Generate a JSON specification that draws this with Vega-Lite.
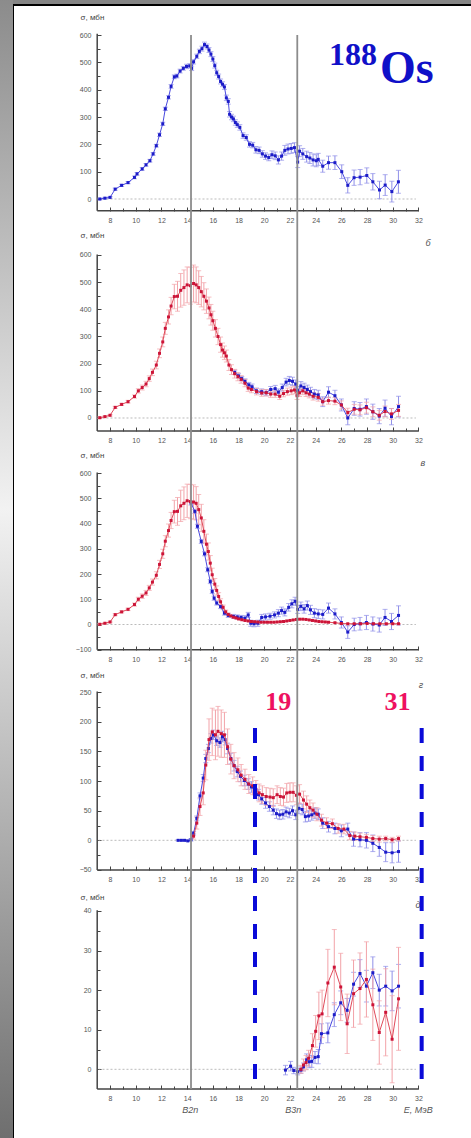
{
"$schema":"https://vega.github.io/schema/vega-lite/v6.json",
"width":459,"height":1134,
"autosize":{"type":"none"},
"padding":{"left":13,"top":5,"right":0,"bottom":0},
"background":"#858585",
"config":{"view":{"fill":"white","stroke":"black","strokeWidth":2},
"axis":{"labelFontSize":7,"labelColor":"#555","tickColor":"#444","tickWidth":1,"labelFont":"Liberation Sans","titleFont":"Liberation Sans","titleFontSize":8,"titleFontWeight":"normal","titleColor":"#444","grid":false,"domain":false,"labelFlush":false}},
"datasets":{
"b1":[{"E":7.2,"s":0,"e":3},{"E":7.6,"s":3,"e":3},{"E":8.0,"s":6,"e":3},{"E":8.4,"s":36,"e":4},{"E":8.9,"s":50,"e":4},{"E":9.4,"s":60,"e":4},{"E":9.9,"s":79,"e":5},{"E":10.1,"s":92,"e":5},{"E":10.5,"s":110,"e":5},{"E":10.8,"s":125,"e":5},{"E":11.1,"s":140,"e":5},{"E":11.35,"s":165,"e":5},{"E":11.6,"s":195,"e":5},{"E":11.85,"s":235,"e":6},{"E":12.1,"s":275,"e":6},{"E":12.3,"s":330,"e":6},{"E":12.55,"s":372,"e":6},{"E":12.75,"s":412,"e":7},{"E":13.0,"s":447,"e":7},{"E":13.2,"s":450,"e":7},{"E":13.45,"s":468,"e":7},{"E":13.7,"s":478,"e":7},{"E":13.95,"s":485,"e":8},{"E":14.2,"s":487,"e":8},{"E":14.35,"s":478,"e":8},{"E":14.5,"s":502,"e":8},{"E":14.75,"s":522,"e":8},{"E":14.95,"s":540,"e":8},{"E":15.15,"s":550,"e":9},{"E":15.35,"s":565,"e":9},{"E":15.55,"s":558,"e":9},{"E":15.7,"s":545,"e":9},{"E":15.85,"s":530,"e":9},{"E":16.0,"s":512,"e":9},{"E":16.15,"s":488,"e":9},{"E":16.3,"s":462,"e":9},{"E":16.45,"s":448,"e":9},{"E":16.6,"s":430,"e":9},{"E":16.75,"s":420,"e":9},{"E":16.9,"s":410,"e":9},{"E":17.05,"s":370,"e":10},{"E":17.2,"s":357,"e":10},{"E":17.3,"s":310,"e":10},{"E":17.45,"s":300,"e":10},{"E":17.6,"s":293,"e":10},{"E":17.75,"s":280,"e":10},{"E":17.9,"s":272,"e":10},{"E":18.1,"s":262,"e":10},{"E":18.35,"s":232,"e":10},{"E":18.6,"s":225,"e":10},{"E":18.85,"s":200,"e":10},{"E":19.1,"s":197,"e":10},{"E":19.35,"s":180,"e":12},{"E":19.6,"s":178,"e":12},{"E":19.85,"s":165,"e":12},{"E":20.1,"s":157,"e":12},{"E":20.35,"s":152,"e":12},{"E":20.6,"s":162,"e":14},{"E":20.85,"s":158,"e":14},{"E":21.1,"s":143,"e":15},{"E":21.35,"s":157,"e":15},{"E":21.6,"s":178,"e":18},{"E":21.85,"s":183,"e":18},{"E":22.1,"s":185,"e":18},{"E":22.35,"s":188,"e":18},{"E":22.6,"s":135,"e":20},{"E":22.75,"s":175,"e":20},{"E":23.0,"s":165,"e":20},{"E":23.3,"s":155,"e":20},{"E":23.55,"s":150,"e":20},{"E":23.8,"s":143,"e":22},{"E":24.05,"s":140,"e":22},{"E":24.2,"s":145,"e":22},{"E":24.55,"s":120,"e":22},{"E":25.0,"s":133,"e":24},{"E":25.5,"s":133,"e":25},{"E":26.03,"s":100,"e":25},{"E":26.5,"s":50,"e":28},{"E":26.99,"s":78,"e":28},{"E":27.46,"s":80,"e":28},{"E":27.98,"s":86,"e":28},{"E":28.45,"s":63,"e":30},{"E":28.97,"s":33,"e":32},{"E":29.41,"s":51,"e":38},{"E":29.93,"s":27,"e":38},{"E":30.44,"s":63,"e":42}],
"r2":[{"E":7.2,"s":1,"e":3},{"E":7.6,"s":5,"e":3},{"E":8.0,"s":10,"e":3},{"E":8.4,"s":39,"e":4},{"E":8.9,"s":50,"e":4},{"E":9.4,"s":60,"e":5},{"E":9.9,"s":79,"e":6},{"E":10.2,"s":100,"e":8},{"E":10.5,"s":112,"e":9},{"E":10.8,"s":125,"e":10},{"E":11.05,"s":145,"e":10},{"E":11.3,"s":168,"e":12},{"E":11.6,"s":195,"e":14},{"E":11.85,"s":238,"e":16},{"E":12.1,"s":280,"e":18},{"E":12.3,"s":330,"e":22},{"E":12.55,"s":372,"e":26},{"E":12.75,"s":412,"e":32},{"E":13.0,"s":447,"e":45},{"E":13.25,"s":448,"e":55},{"E":13.5,"s":470,"e":62},{"E":13.75,"s":480,"e":65},{"E":14.0,"s":490,"e":66},{"E":14.25,"s":487,"e":68},{"E":14.5,"s":495,"e":68},{"E":14.7,"s":490,"e":66},{"E":14.9,"s":480,"e":62},{"E":15.1,"s":465,"e":56},{"E":15.3,"s":448,"e":50},{"E":15.5,"s":430,"e":45},{"E":15.7,"s":405,"e":40},{"E":15.85,"s":380,"e":38},{"E":16.0,"s":358,"e":35},{"E":16.2,"s":330,"e":32},{"E":16.4,"s":300,"e":30},{"E":16.6,"s":270,"e":28},{"E":16.75,"s":250,"e":26},{"E":16.9,"s":240,"e":25},{"E":17.05,"s":228,"e":22},{"E":17.25,"s":195,"e":20},{"E":17.45,"s":178,"e":18},{"E":17.7,"s":163,"e":16},{"E":17.95,"s":152,"e":15},{"E":18.2,"s":142,"e":14},{"E":18.5,"s":128,"e":13},{"E":18.75,"s":110,"e":12},{"E":19.0,"s":105,"e":12},{"E":19.4,"s":97,"e":12},{"E":19.8,"s":92,"e":12},{"E":20.15,"s":93,"e":12},{"E":20.5,"s":88,"e":12},{"E":20.85,"s":88,"e":12},{"E":21.2,"s":80,"e":12},{"E":21.5,"s":90,"e":12},{"E":21.8,"s":97,"e":13},{"E":22.1,"s":100,"e":14},{"E":22.35,"s":103,"e":14},{"E":22.55,"s":82,"e":14},{"E":22.75,"s":93,"e":14},{"E":23.0,"s":100,"e":14},{"E":23.25,"s":93,"e":14},{"E":23.5,"s":88,"e":14},{"E":23.8,"s":80,"e":14},{"E":24.2,"s":76,"e":14},{"E":24.55,"s":60,"e":13},{"E":25.0,"s":64,"e":13},{"E":25.5,"s":62,"e":13},{"E":26.0,"s":48,"e":15},{"E":26.5,"s":20,"e":16},{"E":27.0,"s":32,"e":18},{"E":27.45,"s":30,"e":18},{"E":27.95,"s":38,"e":20},{"E":28.45,"s":23,"e":18},{"E":28.95,"s":10,"e":18},{"E":29.4,"s":24,"e":20},{"E":29.9,"s":15,"e":20},{"E":30.45,"s":28,"e":22}],
"b2":[{"E":17.7,"s":168,"e":8},{"E":18.0,"s":155,"e":8},{"E":18.25,"s":145,"e":8},{"E":18.5,"s":135,"e":9},{"E":18.8,"s":122,"e":9},{"E":19.05,"s":115,"e":10},{"E":19.4,"s":100,"e":10},{"E":19.8,"s":97,"e":10},{"E":20.15,"s":93,"e":11},{"E":20.5,"s":105,"e":11},{"E":20.85,"s":108,"e":12},{"E":21.1,"s":95,"e":12},{"E":21.4,"s":112,"e":13},{"E":21.7,"s":132,"e":14},{"E":21.95,"s":138,"e":15},{"E":22.2,"s":135,"e":15},{"E":22.45,"s":125,"e":15},{"E":22.6,"s":100,"e":16},{"E":22.85,"s":118,"e":16},{"E":23.1,"s":112,"e":16},{"E":23.35,"s":105,"e":16},{"E":23.6,"s":97,"e":16},{"E":23.9,"s":88,"e":17},{"E":24.2,"s":85,"e":17},{"E":24.55,"s":60,"e":18},{"E":25.0,"s":95,"e":20},{"E":25.5,"s":82,"e":20},{"E":26.0,"s":48,"e":22},{"E":26.5,"s":0,"e":25},{"E":27.0,"s":35,"e":25},{"E":27.45,"s":32,"e":25},{"E":27.95,"s":42,"e":28},{"E":28.45,"s":23,"e":28},{"E":28.95,"s":7,"e":28},{"E":29.4,"s":36,"e":30},{"E":29.9,"s":5,"e":30},{"E":30.45,"s":42,"e":38}],
"r3":[{"E":7.2,"s":1,"e":3},{"E":7.6,"s":5,"e":3},{"E":8.0,"s":10,"e":3},{"E":8.4,"s":39,"e":4},{"E":8.9,"s":50,"e":4},{"E":9.4,"s":60,"e":5},{"E":9.9,"s":79,"e":6},{"E":10.2,"s":100,"e":8},{"E":10.5,"s":112,"e":9},{"E":10.8,"s":125,"e":10},{"E":11.05,"s":145,"e":10},{"E":11.3,"s":168,"e":12},{"E":11.6,"s":195,"e":14},{"E":11.85,"s":238,"e":16},{"E":12.1,"s":280,"e":18},{"E":12.3,"s":330,"e":22},{"E":12.55,"s":372,"e":26},{"E":12.75,"s":412,"e":32},{"E":13.0,"s":447,"e":45},{"E":13.25,"s":448,"e":55},{"E":13.5,"s":470,"e":62},{"E":13.75,"s":480,"e":65},{"E":14.0,"s":490,"e":66},{"E":14.25,"s":487,"e":68},{"E":14.5,"s":485,"e":68},{"E":14.7,"s":480,"e":66},{"E":14.9,"s":455,"e":60},{"E":15.1,"s":422,"e":54},{"E":15.3,"s":369,"e":46},{"E":15.5,"s":318,"e":40},{"E":15.65,"s":289,"e":34},{"E":15.8,"s":243,"e":30},{"E":15.95,"s":197,"e":26},{"E":16.15,"s":160,"e":22},{"E":16.3,"s":135,"e":18},{"E":16.45,"s":111,"e":15},{"E":16.6,"s":90,"e":12},{"E":16.8,"s":68,"e":9},{"E":17.0,"s":50,"e":7},{"E":17.2,"s":40,"e":5},{"E":17.4,"s":34,"e":4},{"E":17.6,"s":29,"e":3},{"E":17.8,"s":26,"e":3},{"E":18.0,"s":22,"e":2},{"E":18.25,"s":19,"e":2},{"E":18.5,"s":16,"e":2},{"E":18.75,"s":14,"e":1},{"E":19.0,"s":12,"e":1},{"E":19.25,"s":11,"e":1},{"E":19.5,"s":10,"e":1},{"E":19.75,"s":9,"e":1},{"E":20.0,"s":9,"e":1},{"E":20.25,"s":9,"e":1},{"E":20.5,"s":9,"e":1},{"E":20.75,"s":9,"e":1},{"E":21.0,"s":10,"e":1},{"E":21.25,"s":11,"e":1},{"E":21.5,"s":12,"e":1},{"E":21.75,"s":14,"e":1},{"E":22.0,"s":16,"e":1},{"E":22.25,"s":18,"e":1},{"E":22.5,"s":20,"e":1},{"E":22.75,"s":21,"e":1},{"E":23.0,"s":21,"e":1},{"E":23.25,"s":20,"e":1},{"E":23.5,"s":18,"e":1},{"E":23.75,"s":16,"e":1},{"E":24.0,"s":14,"e":1},{"E":24.25,"s":12,"e":1},{"E":24.5,"s":11,"e":1},{"E":24.75,"s":10,"e":1},{"E":25.0,"s":9,"e":1},{"E":25.5,"s":7,"e":1},{"E":26.0,"s":4,"e":1},{"E":26.5,"s":3,"e":1},{"E":27.0,"s":3,"e":1},{"E":27.5,"s":3,"e":1},{"E":28.0,"s":4,"e":1},{"E":28.5,"s":3,"e":1},{"E":29.0,"s":3,"e":1},{"E":29.5,"s":3,"e":1},{"E":30.0,"s":3,"e":1},{"E":30.45,"s":3,"e":1}],
"b3":[{"E":14.3,"s":481,"e":8},{"E":14.6,"s":448,"e":8},{"E":14.8,"s":389,"e":8},{"E":15.1,"s":329,"e":8},{"E":15.35,"s":280,"e":8},{"E":15.6,"s":217,"e":8},{"E":15.8,"s":170,"e":8},{"E":15.95,"s":131,"e":8},{"E":16.1,"s":104,"e":8},{"E":16.3,"s":85,"e":8},{"E":16.6,"s":71,"e":8},{"E":16.9,"s":45,"e":8},{"E":17.2,"s":36,"e":8},{"E":17.6,"s":32,"e":8},{"E":17.9,"s":30,"e":8},{"E":18.2,"s":28,"e":8},{"E":18.5,"s":25,"e":10},{"E":18.75,"s":38,"e":10},{"E":18.95,"s":5,"e":12},{"E":19.2,"s":3,"e":12},{"E":19.5,"s":5,"e":12},{"E":19.8,"s":28,"e":12},{"E":20.1,"s":30,"e":12},{"E":20.45,"s":33,"e":12},{"E":20.8,"s":38,"e":12},{"E":21.1,"s":45,"e":14},{"E":21.35,"s":55,"e":14},{"E":21.6,"s":48,"e":14},{"E":21.9,"s":68,"e":15},{"E":22.15,"s":82,"e":16},{"E":22.4,"s":92,"e":16},{"E":22.6,"s":60,"e":16},{"E":22.85,"s":72,"e":17},{"E":23.1,"s":62,"e":17},{"E":23.35,"s":75,"e":18},{"E":23.6,"s":58,"e":18},{"E":23.9,"s":45,"e":18},{"E":24.2,"s":42,"e":18},{"E":24.55,"s":40,"e":18},{"E":25.0,"s":65,"e":20},{"E":25.5,"s":42,"e":20},{"E":26.0,"s":8,"e":22},{"E":26.5,"s":-30,"e":25},{"E":27.0,"s":0,"e":25},{"E":27.45,"s":3,"e":25},{"E":27.95,"s":8,"e":28},{"E":28.45,"s":2,"e":28},{"E":28.95,"s":-2,"e":28},{"E":29.4,"s":28,"e":32},{"E":29.9,"s":12,"e":32},{"E":30.45,"s":36,"e":38}],
"b4":[{"E":13.3,"s":0,"e":1},{"E":13.55,"s":0,"e":1},{"E":13.8,"s":0,"e":1},{"E":14.05,"s":-1,"e":1},{"E":14.3,"s":1,"e":2},{"E":14.5,"s":12,"e":3},{"E":14.75,"s":37,"e":4},{"E":15.0,"s":75,"e":5},{"E":15.25,"s":105,"e":6},{"E":15.45,"s":138,"e":7},{"E":15.65,"s":155,"e":7},{"E":15.85,"s":172,"e":8},{"E":16.05,"s":178,"e":8},{"E":16.3,"s":168,"e":8},{"E":16.55,"s":165,"e":8},{"E":16.75,"s":175,"e":9},{"E":16.95,"s":170,"e":9},{"E":17.15,"s":155,"e":9},{"E":17.4,"s":138,"e":9},{"E":17.65,"s":126,"e":9},{"E":17.9,"s":116,"e":9},{"E":18.15,"s":108,"e":9},{"E":18.45,"s":101,"e":9},{"E":18.75,"s":95,"e":9},{"E":19.0,"s":90,"e":9},{"E":19.3,"s":85,"e":9},{"E":19.55,"s":77,"e":9},{"E":19.8,"s":70,"e":9},{"E":20.1,"s":63,"e":9},{"E":20.4,"s":57,"e":8},{"E":20.7,"s":51,"e":8},{"E":20.95,"s":45,"e":8},{"E":21.2,"s":43,"e":8},{"E":21.45,"s":44,"e":8},{"E":21.7,"s":48,"e":8},{"E":21.95,"s":46,"e":8},{"E":22.2,"s":50,"e":8},{"E":22.45,"s":43,"e":8},{"E":22.7,"s":54,"e":9},{"E":22.95,"s":52,"e":9},{"E":23.2,"s":40,"e":9},{"E":23.45,"s":41,"e":9},{"E":23.7,"s":43,"e":9},{"E":23.95,"s":46,"e":9},{"E":24.2,"s":44,"e":9},{"E":24.55,"s":29,"e":9},{"E":25.0,"s":23,"e":9},{"E":25.5,"s":20,"e":9},{"E":26.0,"s":16,"e":10},{"E":26.5,"s":19,"e":10},{"E":26.95,"s":2,"e":12},{"E":27.45,"s":1,"e":12},{"E":27.95,"s":0,"e":13},{"E":28.45,"s":-5,"e":14},{"E":28.95,"s":-12,"e":15},{"E":29.45,"s":-20,"e":16},{"E":29.95,"s":-21,"e":17},{"E":30.45,"s":-19,"e":18}],
"r4":[{"E":14.5,"s":7,"e":5},{"E":14.75,"s":29,"e":10},{"E":15.0,"s":57,"e":15},{"E":15.25,"s":80,"e":20},{"E":15.45,"s":127,"e":25},{"E":15.7,"s":170,"e":35},{"E":15.95,"s":183,"e":40},{"E":16.2,"s":178,"e":42},{"E":16.4,"s":184,"e":42},{"E":16.65,"s":180,"e":40},{"E":16.9,"s":178,"e":38},{"E":17.15,"s":158,"e":30},{"E":17.4,"s":137,"e":25},{"E":17.65,"s":126,"e":22},{"E":17.95,"s":119,"e":20},{"E":18.2,"s":110,"e":18},{"E":18.5,"s":103,"e":17},{"E":18.8,"s":95,"e":16},{"E":19.1,"s":92,"e":15},{"E":19.35,"s":86,"e":15},{"E":19.6,"s":80,"e":15},{"E":19.85,"s":77,"e":15},{"E":20.15,"s":74,"e":15},{"E":20.45,"s":73,"e":15},{"E":20.7,"s":72,"e":15},{"E":21.0,"s":77,"e":15},{"E":21.25,"s":74,"e":15},{"E":21.5,"s":73,"e":15},{"E":21.75,"s":80,"e":16},{"E":22.0,"s":81,"e":16},{"E":22.25,"s":81,"e":16},{"E":22.5,"s":76,"e":16},{"E":22.75,"s":78,"e":16},{"E":23.05,"s":68,"e":15},{"E":23.3,"s":61,"e":14},{"E":23.55,"s":55,"e":13},{"E":23.8,"s":51,"e":12},{"E":24.1,"s":44,"e":11},{"E":24.45,"s":34,"e":10},{"E":24.85,"s":29,"e":9},{"E":25.3,"s":28,"e":8},{"E":25.75,"s":20,"e":8},{"E":26.2,"s":19,"e":8},{"E":26.65,"s":8,"e":7},{"E":27.05,"s":7,"e":7},{"E":27.45,"s":6,"e":6},{"E":27.95,"s":5,"e":5},{"E":28.45,"s":3,"e":5},{"E":28.95,"s":2,"e":5},{"E":29.45,"s":3,"e":4},{"E":29.95,"s":1,"e":4},{"E":30.45,"s":3,"e":4}],
"b5":[{"E":21.65,"s":-0.2,"e":1.2},{"E":22.05,"s":0.8,"e":1.2},{"E":22.3,"s":-0.3,"e":0.8},{"E":22.6,"s":-0.6,"e":0.8},{"E":22.85,"s":-0.2,"e":0.8},{"E":23.05,"s":0.6,"e":1.0},{"E":23.3,"s":2.4,"e":1.5},{"E":23.5,"s":1.9,"e":1.5},{"E":23.7,"s":2.0,"e":1.5},{"E":23.95,"s":3.0,"e":1.5},{"E":24.2,"s":3.2,"e":1.8},{"E":24.45,"s":9.0,"e":2.5},{"E":24.95,"s":9.2,"e":2.5},{"E":25.45,"s":13.8,"e":3},{"E":25.95,"s":16.8,"e":3},{"E":26.45,"s":14.9,"e":3},{"E":26.95,"s":21.5,"e":3},{"E":27.45,"s":24.2,"e":3.5},{"E":27.95,"s":21.0,"e":4},{"E":28.45,"s":24.4,"e":4},{"E":28.95,"s":20.0,"e":4},{"E":29.45,"s":21.0,"e":5},{"E":29.95,"s":19.8,"e":5},{"E":30.45,"s":21.0,"e":5.5}],
"r5":[{"E":22.85,"s":0,"e":1},{"E":23.05,"s":1.1,"e":1.5},{"E":23.25,"s":1.7,"e":1.8},{"E":23.45,"s":2.8,"e":2},{"E":23.75,"s":6.0,"e":3},{"E":24.0,"s":9.6,"e":4},{"E":24.25,"s":13.5,"e":6},{"E":24.5,"s":14.0,"e":6},{"E":24.95,"s":21.8,"e":8.5},{"E":25.45,"s":25.8,"e":9.5},{"E":25.95,"s":20.8,"e":8.5},{"E":26.45,"s":11.5,"e":7.5},{"E":26.95,"s":19.1,"e":8.5},{"E":27.45,"s":20.4,"e":9},{"E":27.95,"s":22.7,"e":9.5},{"E":28.45,"s":16.3,"e":9},{"E":28.95,"s":9.3,"e":8},{"E":29.45,"s":14.4,"e":11},{"E":29.95,"s":7.6,"e":11},{"E":30.45,"s":17.8,"e":13}]
},
"layer":[
{"data":{"values":[{}]},"mark":{"type":"rect","fill":{"gradient":"linear","x1":0,"y1":0,"x2":0,"y2":1,"stops":[{"offset":0,"color":"#8a8a8a"},{"offset":0.45,"color":"#f2f2f2"},{"offset":1,"color":"#6e6e6e"}]}},"encoding":{"x":{"datum":-0.7,"type":"quantitative","scale":{"domain":[0.447,36.167],"nice":false,"zero":false},"axis":null},"x2":{"datum":0.447},"y":{"datum":272,"type":"quantitative","scale":{"domain":[-17.6,268.8],"nice":false,"zero":false},"axis":null},"y2":{"datum":-18}}},

{"data":{"values":[{}]},"mark":{"type":"rule","color":"#444","strokeWidth":1.5},"encoding":{"x":{"datum":7,"type":"quantitative","scale":{"domain":[0.447,36.167],"nice":false,"zero":false},"axis":null},"y":{"datum":-43,"type":"quantitative","scale":{"domain":[-3439.1,709.8],"nice":false,"zero":false},"axis":null},"y2":{"datum":605}}},
{"data":{"values":[{}]},"mark":{"type":"rule","color":"#444","strokeWidth":1.5},"encoding":{"x":{"datum":7,"type":"quantitative","scale":{"domain":[0.447,36.167],"nice":false,"zero":false},"axis":null},"x2":{"datum":32},"y":{"datum":-43,"type":"quantitative","scale":{"domain":[-3439.1,709.8],"nice":false,"zero":false},"axis":null}}},
{"data":{"values":[{}]},"mark":{"type":"rule","color":"#aaa","strokeWidth":0.8,"strokeDash":[2,2]},"encoding":{"x":{"datum":7.1,"type":"quantitative","scale":{"domain":[0.447,36.167],"nice":false,"zero":false},"axis":null},"x2":{"datum":31.8},"y":{"datum":0,"type":"quantitative","scale":{"domain":[-3439.1,709.8],"nice":false,"zero":false},"axis":null}}},
{"data":{"name":"b1"},"mark":{"type":"errorbar","color":"#8f8fe8","thickness":1,"ticks":{"size":5}},"encoding":{"x":{"field":"E","type":"quantitative","scale":{"domain":[0.447,36.167],"nice":false,"zero":false},"axis":null},"y":{"field":"s","type":"quantitative","scale":{"domain":[-3439.1,709.8],"nice":false,"zero":false},"axis":null},"yError":{"field":"e"}}},
{"data":{"name":"b1"},"mark":{"type":"line","color":"#4a4ae0","strokeWidth":1},"encoding":{"x":{"field":"E","type":"quantitative","scale":{"domain":[0.447,36.167],"nice":false,"zero":false},"axis":{"orient":"bottom","offset":-928,"values":[8,10,12,14,16,18,20,22,24,26,28,30,32],"tickSize":-4,"labelPadding":9,"title":null}},"y":{"field":"s","type":"quantitative","scale":{"domain":[-3439.1,709.8],"nice":false,"zero":false},"axis":{"orient":"left","offset":-84,"values":[0,100,200,300,400,500,600],"tickSize":-4,"labelPadding":10,"title":"σ, мбн","titleAngle":0,"titleX":-17,"titleY":12,"titleAlign":"left","titleBaseline":"middle"}}}},
{"data":{"name":"b1"},"mark":{"type":"point","shape":"square","filled":true,"size":9,"color":"#1c1cc8","opacity":1},"encoding":{"x":{"field":"E","type":"quantitative","scale":{"domain":[0.447,36.167],"nice":false,"zero":false},"axis":{"orient":"bottom","offset":-928,"values":[9,11,13,15,17,19,21,23,25,27,29,31],"tickSize":-3,"labels":false,"title":null}},"y":{"field":"s","type":"quantitative","scale":{"domain":[-3439.1,709.8],"nice":false,"zero":false},"axis":{"orient":"left","offset":-84,"values":[50,150,250,350,450,550],"tickSize":-3,"labels":false,"title":null}}}},

{"data":{"values":[{}]},"mark":{"type":"rule","color":"#444","strokeWidth":1.5},"encoding":{"x":{"datum":7,"type":"quantitative","scale":{"domain":[0.447,36.167],"nice":false,"zero":false},"axis":null},"y":{"datum":-48,"type":"quantitative","scale":{"domain":[-2654,1520.2],"nice":false,"zero":false},"axis":null},"y2":{"datum":602}}},
{"data":{"values":[{}]},"mark":{"type":"rule","color":"#444","strokeWidth":1.5},"encoding":{"x":{"datum":7,"type":"quantitative","scale":{"domain":[0.447,36.167],"nice":false,"zero":false},"axis":null},"x2":{"datum":32},"y":{"datum":-48,"type":"quantitative","scale":{"domain":[-2654,1520.2],"nice":false,"zero":false},"axis":null}}},
{"data":{"values":[{}]},"mark":{"type":"rule","color":"#aaa","strokeWidth":0.8,"strokeDash":[2,2]},"encoding":{"x":{"datum":7.1,"type":"quantitative","scale":{"domain":[0.447,36.167],"nice":false,"zero":false},"axis":null},"x2":{"datum":31.8},"y":{"datum":0,"type":"quantitative","scale":{"domain":[-2654,1520.2],"nice":false,"zero":false},"axis":null}}},
{"data":{"name":"b2"},"mark":{"type":"errorbar","color":"#8f8fe8","thickness":1,"ticks":{"size":5}},"encoding":{"x":{"field":"E","type":"quantitative","scale":{"domain":[0.447,36.167],"nice":false,"zero":false},"axis":null},"y":{"field":"s","type":"quantitative","scale":{"domain":[-2654,1520.2],"nice":false,"zero":false},"axis":null},"yError":{"field":"e"}}},
{"data":{"name":"r2"},"mark":{"type":"errorbar","color":"#f2a2a8","thickness":1,"ticks":{"size":5}},"encoding":{"x":{"field":"E","type":"quantitative","scale":{"domain":[0.447,36.167],"nice":false,"zero":false},"axis":null},"y":{"field":"s","type":"quantitative","scale":{"domain":[-2654,1520.2],"nice":false,"zero":false},"axis":null},"yError":{"field":"e"}}},
{"data":{"name":"b2"},"mark":{"type":"line","color":"#4a4ae0","strokeWidth":1},"encoding":{"x":{"field":"E","type":"quantitative","scale":{"domain":[0.447,36.167],"nice":false,"zero":false},"axis":{"orient":"bottom","offset":-708,"values":[8,10,12,14,16,18,20,22,24,26,28,30,32],"tickSize":-4,"labelPadding":9,"title":null}},"y":{"field":"s","type":"quantitative","scale":{"domain":[-2654,1520.2],"nice":false,"zero":false},"axis":{"orient":"left","offset":-84,"values":[0,100,200,300,400,500,600],"tickSize":-4,"labelPadding":10,"title":"σ, мбн","titleAngle":0,"titleX":-17,"titleY":230,"titleAlign":"left","titleBaseline":"middle"}}}},
{"data":{"name":"b2"},"mark":{"type":"point","shape":"square","filled":true,"size":9,"color":"#1c1cc8","opacity":1},"encoding":{"x":{"field":"E","type":"quantitative","scale":{"domain":[0.447,36.167],"nice":false,"zero":false},"axis":{"orient":"bottom","offset":-708,"values":[9,11,13,15,17,19,21,23,25,27,29,31],"tickSize":-3,"labels":false,"title":null}},"y":{"field":"s","type":"quantitative","scale":{"domain":[-2654,1520.2],"nice":false,"zero":false},"axis":{"orient":"left","offset":-84,"values":[50,150,250,350,450,550],"tickSize":-3,"labels":false,"title":null}}}},
{"data":{"name":"r2"},"mark":{"type":"line","color":"#e04a5a","strokeWidth":1},"encoding":{"x":{"field":"E","type":"quantitative","scale":{"domain":[0.447,36.167],"nice":false,"zero":false},"axis":null},"y":{"field":"s","type":"quantitative","scale":{"domain":[-2654,1520.2],"nice":false,"zero":false},"axis":null}}},
{"data":{"name":"r2"},"mark":{"type":"point","shape":"square","filled":true,"size":9,"color":"#cc1438","opacity":1},"encoding":{"x":{"field":"E","type":"quantitative","scale":{"domain":[0.447,36.167],"nice":false,"zero":false},"axis":null},"y":{"field":"s","type":"quantitative","scale":{"domain":[-2654,1520.2],"nice":false,"zero":false},"axis":null}}},
{"data":{"values":[{}]},"mark":{"type":"text","text":"б","fontStyle":"italic","fontSize":9,"color":"#555","font":"Liberation Sans"},"encoding":{"x":{"datum":32.74,"type":"quantitative","scale":{"domain":[0.447,36.167],"nice":false,"zero":false},"axis":null},"y":{"datum":644,"type":"quantitative","scale":{"domain":[-2654,1520.2],"nice":false,"zero":false},"axis":null}}},

{"data":{"values":[{}]},"mark":{"type":"rule","color":"#444","strokeWidth":1.5},"encoding":{"x":{"datum":7,"type":"quantitative","scale":{"domain":[0.447,36.167],"nice":false,"zero":false},"axis":null},"y":{"datum":-100,"type":"quantitative","scale":{"domain":[-2037.6,2453.5],"nice":false,"zero":false},"axis":null},"y2":{"datum":602}}},
{"data":{"values":[{}]},"mark":{"type":"rule","color":"#444","strokeWidth":1.5},"encoding":{"x":{"datum":7,"type":"quantitative","scale":{"domain":[0.447,36.167],"nice":false,"zero":false},"axis":null},"x2":{"datum":32},"y":{"datum":-100,"type":"quantitative","scale":{"domain":[-2037.6,2453.5],"nice":false,"zero":false},"axis":null}}},
{"data":{"values":[{}]},"mark":{"type":"rule","color":"#aaa","strokeWidth":0.8,"strokeDash":[2,2]},"encoding":{"x":{"datum":7.1,"type":"quantitative","scale":{"domain":[0.447,36.167],"nice":false,"zero":false},"axis":null},"x2":{"datum":31.8},"y":{"datum":0,"type":"quantitative","scale":{"domain":[-2037.6,2453.5],"nice":false,"zero":false},"axis":null}}},
{"data":{"name":"b3"},"mark":{"type":"errorbar","color":"#8f8fe8","thickness":1,"ticks":{"size":5}},"encoding":{"x":{"field":"E","type":"quantitative","scale":{"domain":[0.447,36.167],"nice":false,"zero":false},"axis":null},"y":{"field":"s","type":"quantitative","scale":{"domain":[-2037.6,2453.5],"nice":false,"zero":false},"axis":null},"yError":{"field":"e"}}},
{"data":{"name":"r3"},"mark":{"type":"errorbar","color":"#f2a2a8","thickness":1,"ticks":{"size":5}},"encoding":{"x":{"field":"E","type":"quantitative","scale":{"domain":[0.447,36.167],"nice":false,"zero":false},"axis":null},"y":{"field":"s","type":"quantitative","scale":{"domain":[-2037.6,2453.5],"nice":false,"zero":false},"axis":null},"yError":{"field":"e"}}},
{"data":{"name":"b3"},"mark":{"type":"line","color":"#4a4ae0","strokeWidth":1},"encoding":{"x":{"field":"E","type":"quantitative","scale":{"domain":[0.447,36.167],"nice":false,"zero":false},"axis":{"orient":"bottom","offset":-489,"values":[8,10,12,14,16,18,20,22,24,26,28,30,32],"tickSize":-4,"labelPadding":9,"title":null}},"y":{"field":"s","type":"quantitative","scale":{"domain":[-2037.6,2453.5],"nice":false,"zero":false},"axis":{"orient":"left","offset":-84,"values":[-100,0,100,200,300,400,500,600],"tickSize":-4,"labelPadding":10,"title":"σ, мбн","titleAngle":0,"titleX":-17,"titleY":450,"titleAlign":"left","titleBaseline":"middle"}}}},
{"data":{"name":"b3"},"mark":{"type":"point","shape":"square","filled":true,"size":9,"color":"#1c1cc8","opacity":1},"encoding":{"x":{"field":"E","type":"quantitative","scale":{"domain":[0.447,36.167],"nice":false,"zero":false},"axis":{"orient":"bottom","offset":-489,"values":[9,11,13,15,17,19,21,23,25,27,29,31],"tickSize":-3,"labels":false,"title":null}},"y":{"field":"s","type":"quantitative","scale":{"domain":[-2037.6,2453.5],"nice":false,"zero":false},"axis":{"orient":"left","offset":-84,"values":[-50,50,150,250,350,450,550],"tickSize":-3,"labels":false,"title":null}}}},
{"data":{"name":"r3"},"mark":{"type":"line","color":"#e04a5a","strokeWidth":1},"encoding":{"x":{"field":"E","type":"quantitative","scale":{"domain":[0.447,36.167],"nice":false,"zero":false},"axis":null},"y":{"field":"s","type":"quantitative","scale":{"domain":[-2037.6,2453.5],"nice":false,"zero":false},"axis":null}}},
{"data":{"name":"r3"},"mark":{"type":"point","shape":"square","filled":true,"size":9,"color":"#cc1438","opacity":1},"encoding":{"x":{"field":"E","type":"quantitative","scale":{"domain":[0.447,36.167],"nice":false,"zero":false},"axis":null},"y":{"field":"s","type":"quantitative","scale":{"domain":[-2037.6,2453.5],"nice":false,"zero":false},"axis":null}}},
{"data":{"values":[{}]},"mark":{"type":"text","text":"в","fontStyle":"italic","fontSize":9,"color":"#555","font":"Liberation Sans"},"encoding":{"x":{"datum":32.35,"type":"quantitative","scale":{"domain":[0.447,36.167],"nice":false,"zero":false},"axis":null},"y":{"datum":640,"type":"quantitative","scale":{"domain":[-2037.6,2453.5],"nice":false,"zero":false},"axis":null}}},

{"data":{"values":[{}]},"mark":{"type":"rule","color":"#444","strokeWidth":1.5},"encoding":{"x":{"datum":7,"type":"quantitative","scale":{"domain":[0.447,36.167],"nice":false,"zero":false},"axis":null},"y":{"datum":-50,"type":"quantitative","scale":{"domain":[-504.1,1409.8],"nice":false,"zero":false},"axis":null},"y2":{"datum":251}}},
{"data":{"values":[{}]},"mark":{"type":"rule","color":"#444","strokeWidth":1.5},"encoding":{"x":{"datum":7,"type":"quantitative","scale":{"domain":[0.447,36.167],"nice":false,"zero":false},"axis":null},"x2":{"datum":32},"y":{"datum":-50,"type":"quantitative","scale":{"domain":[-504.1,1409.8],"nice":false,"zero":false},"axis":null}}},
{"data":{"values":[{}]},"mark":{"type":"rule","color":"#aaa","strokeWidth":0.8,"strokeDash":[2,2]},"encoding":{"x":{"datum":7.1,"type":"quantitative","scale":{"domain":[0.447,36.167],"nice":false,"zero":false},"axis":null},"x2":{"datum":31.8},"y":{"datum":0,"type":"quantitative","scale":{"domain":[-504.1,1409.8],"nice":false,"zero":false},"axis":null}}},
{"data":{"name":"b4"},"mark":{"type":"errorbar","color":"#8f8fe8","thickness":1,"ticks":{"size":5}},"encoding":{"x":{"field":"E","type":"quantitative","scale":{"domain":[0.447,36.167],"nice":false,"zero":false},"axis":null},"y":{"field":"s","type":"quantitative","scale":{"domain":[-504.1,1409.8],"nice":false,"zero":false},"axis":null},"yError":{"field":"e"}}},
{"data":{"name":"r4"},"mark":{"type":"errorbar","color":"#f2a2a8","thickness":1,"ticks":{"size":5}},"encoding":{"x":{"field":"E","type":"quantitative","scale":{"domain":[0.447,36.167],"nice":false,"zero":false},"axis":null},"y":{"field":"s","type":"quantitative","scale":{"domain":[-504.1,1409.8],"nice":false,"zero":false},"axis":null},"yError":{"field":"e"}}},
{"data":{"name":"b4"},"mark":{"type":"line","color":"#4a4ae0","strokeWidth":1},"encoding":{"x":{"field":"E","type":"quantitative","scale":{"domain":[0.447,36.167],"nice":false,"zero":false},"axis":{"orient":"bottom","offset":-269,"values":[8,10,12,14,16,18,20,22,24,26,28,30,32],"tickSize":-4,"labelPadding":9,"title":null}},"y":{"field":"s","type":"quantitative","scale":{"domain":[-504.1,1409.8],"nice":false,"zero":false},"axis":{"orient":"left","offset":-84,"values":[-50,0,50,100,150,200,250],"tickSize":-4,"labelPadding":10,"title":"σ, мбн","titleAngle":0,"titleX":-17,"titleY":670,"titleAlign":"left","titleBaseline":"middle"}}}},
{"data":{"name":"b4"},"mark":{"type":"point","shape":"square","filled":true,"size":9,"color":"#1c1cc8","opacity":1},"encoding":{"x":{"field":"E","type":"quantitative","scale":{"domain":[0.447,36.167],"nice":false,"zero":false},"axis":{"orient":"bottom","offset":-269,"values":[9,11,13,15,17,19,21,23,25,27,29,31],"tickSize":-3,"labels":false,"title":null}},"y":{"field":"s","type":"quantitative","scale":{"domain":[-504.1,1409.8],"nice":false,"zero":false},"axis":{"orient":"left","offset":-84,"values":[-25,25,75,125,175,225],"tickSize":-3,"labels":false,"title":null}}}},
{"data":{"name":"r4"},"mark":{"type":"line","color":"#e04a5a","strokeWidth":1},"encoding":{"x":{"field":"E","type":"quantitative","scale":{"domain":[0.447,36.167],"nice":false,"zero":false},"axis":null},"y":{"field":"s","type":"quantitative","scale":{"domain":[-504.1,1409.8],"nice":false,"zero":false},"axis":null}}},
{"data":{"name":"r4"},"mark":{"type":"point","shape":"square","filled":true,"size":9,"color":"#cc1438","opacity":1},"encoding":{"x":{"field":"E","type":"quantitative","scale":{"domain":[0.447,36.167],"nice":false,"zero":false},"axis":null},"y":{"field":"s","type":"quantitative","scale":{"domain":[-504.1,1409.8],"nice":false,"zero":false},"axis":null}}},
{"data":{"values":[{}]},"mark":{"type":"text","text":"г","fontStyle":"italic","fontSize":9,"color":"#555","font":"Liberation Sans"},"encoding":{"x":{"datum":32.2,"type":"quantitative","scale":{"domain":[0.447,36.167],"nice":false,"zero":false},"axis":null},"y":{"datum":262,"type":"quantitative","scale":{"domain":[-504.1,1409.8],"nice":false,"zero":false},"axis":null}}},

{"data":{"values":[{}]},"mark":{"type":"rule","color":"#444","strokeWidth":1.5},"encoding":{"x":{"datum":7,"type":"quantitative","scale":{"domain":[0.447,36.167],"nice":false,"zero":false},"axis":null},"y":{"datum":-5,"type":"quantitative","scale":{"domain":[-17.6,268.8],"nice":false,"zero":false},"axis":null},"y2":{"datum":40.2}}},
{"data":{"values":[{}]},"mark":{"type":"rule","color":"#444","strokeWidth":1.5},"encoding":{"x":{"datum":7,"type":"quantitative","scale":{"domain":[0.447,36.167],"nice":false,"zero":false},"axis":null},"x2":{"datum":32},"y":{"datum":-5,"type":"quantitative","scale":{"domain":[-17.6,268.8],"nice":false,"zero":false},"axis":null}}},
{"data":{"values":[{}]},"mark":{"type":"rule","color":"#aaa","strokeWidth":0.8,"strokeDash":[2,2]},"encoding":{"x":{"datum":7.1,"type":"quantitative","scale":{"domain":[0.447,36.167],"nice":false,"zero":false},"axis":null},"x2":{"datum":31.8},"y":{"datum":0,"type":"quantitative","scale":{"domain":[-17.6,268.8],"nice":false,"zero":false},"axis":null}}},
{"data":{"name":"b5"},"mark":{"type":"errorbar","color":"#8f8fe8","thickness":1,"ticks":{"size":5}},"encoding":{"x":{"field":"E","type":"quantitative","scale":{"domain":[0.447,36.167],"nice":false,"zero":false},"axis":null},"y":{"field":"s","type":"quantitative","scale":{"domain":[-17.6,268.8],"nice":false,"zero":false},"axis":null},"yError":{"field":"e"}}},
{"data":{"name":"r5"},"mark":{"type":"errorbar","color":"#f2a2a8","thickness":1,"ticks":{"size":5}},"encoding":{"x":{"field":"E","type":"quantitative","scale":{"domain":[0.447,36.167],"nice":false,"zero":false},"axis":null},"y":{"field":"s","type":"quantitative","scale":{"domain":[-17.6,268.8],"nice":false,"zero":false},"axis":null},"yError":{"field":"e"}}},
{"data":{"name":"b5"},"mark":{"type":"line","color":"#4a4ae0","strokeWidth":1},"encoding":{"x":{"field":"E","type":"quantitative","scale":{"domain":[0.447,36.167],"nice":false,"zero":false},"axis":{"orient":"bottom","offset":-50,"values":[8,10,12,14,16,18,20,22,24,26,28,30,32],"tickSize":-4,"labelPadding":9,"title":null}},"y":{"field":"s","type":"quantitative","scale":{"domain":[-17.6,268.8],"nice":false,"zero":false},"axis":{"orient":"left","offset":-84,"values":[0,10,20,30,40],"tickSize":-4,"labelPadding":10,"title":"σ, мбн","titleAngle":0,"titleX":-17,"titleY":892,"titleAlign":"left","titleBaseline":"middle"}}}},
{"data":{"name":"b5"},"mark":{"type":"point","shape":"square","filled":true,"size":9,"color":"#1c1cc8","opacity":1},"encoding":{"x":{"field":"E","type":"quantitative","scale":{"domain":[0.447,36.167],"nice":false,"zero":false},"axis":{"orient":"bottom","offset":-50,"values":[9,11,13,15,17,19,21,23,25,27,29,31],"tickSize":-3,"labels":false,"title":null}},"y":{"field":"s","type":"quantitative","scale":{"domain":[-17.6,268.8],"nice":false,"zero":false},"axis":{"orient":"left","offset":-84,"values":[5,15,25,35],"tickSize":-3,"labels":false,"title":null}}}},
{"data":{"name":"r5"},"mark":{"type":"line","color":"#e04a5a","strokeWidth":1},"encoding":{"x":{"field":"E","type":"quantitative","scale":{"domain":[0.447,36.167],"nice":false,"zero":false},"axis":null},"y":{"field":"s","type":"quantitative","scale":{"domain":[-17.6,268.8],"nice":false,"zero":false},"axis":null}}},
{"data":{"name":"r5"},"mark":{"type":"point","shape":"square","filled":true,"size":9,"color":"#cc1438","opacity":1},"encoding":{"x":{"field":"E","type":"quantitative","scale":{"domain":[0.447,36.167],"nice":false,"zero":false},"axis":null},"y":{"field":"s","type":"quantitative","scale":{"domain":[-17.6,268.8],"nice":false,"zero":false},"axis":null}}},
{"data":{"values":[{}]},"mark":{"type":"text","text":"д","fontStyle":"italic","fontSize":9,"color":"#555","font":"Liberation Sans"},"encoding":{"x":{"datum":31.97,"type":"quantitative","scale":{"domain":[0.447,36.167],"nice":false,"zero":false},"axis":null},"y":{"datum":41.5,"type":"quantitative","scale":{"domain":[-17.6,268.8],"nice":false,"zero":false},"axis":null}}},
{"data":{"values":[{"t":"B2n","E":14.24},{"t":"B3n","E":22.26},{"t":"Е, МэВ","E":31.98}]},"mark":{"type":"text","fontStyle":"italic","fontSize":9,"color":"#555","font":"Liberation Sans"},"encoding":{"text":{"field":"t"},"x":{"field":"E","type":"quantitative","scale":{"domain":[0.447,36.167],"nice":false,"zero":false},"axis":null},"y":{"datum":-10.3,"type":"quantitative","scale":{"domain":[-17.6,268.8],"nice":false,"zero":false},"axis":null}}},

{"data":{"values":[{"x":14.3},{"x":22.57}]},"mark":{"type":"rule","color":"#8c8c8c","strokeWidth":1.8},"encoding":{"x":{"field":"x","type":"quantitative","scale":{"domain":[0.447,36.167],"nice":false,"zero":false},"axis":null},"y":{"datum":-5,"type":"quantitative","scale":{"domain":[-17.6,268.8],"nice":false,"zero":false},"axis":null},"y2":{"datum":261.2}}},
{"data":{"values":[{"x":19.28},{"x":32.25}]},"mark":{"type":"rule","color":"#0a0ad8","strokeWidth":4,"strokeDash":[15,13]},"encoding":{"x":{"field":"x","type":"quantitative","scale":{"domain":[0.447,36.167],"nice":false,"zero":false},"axis":null},"y":{"datum":86.2,"type":"quantitative","scale":{"domain":[-17.6,268.8],"nice":false,"zero":false},"axis":null},"y2":{"datum":-5.2}}},
{"data":{"values":[{"t":"19","E":21.09},{"t":"31","E":30.37}]},"mark":{"type":"text","font":"Liberation Serif","fontWeight":"bold","fontSize":26,"color":"#ee1160","baseline":"alphabetic"},"encoding":{"text":{"field":"t"},"x":{"field":"E","type":"quantitative","scale":{"domain":[0.447,36.167],"nice":false,"zero":false},"axis":null},"y":{"datum":220,"type":"quantitative","scale":{"domain":[-504.1,1409.8],"nice":false,"zero":false},"axis":null}}},
{"data":{"values":[{}]},"mark":{"type":"text","text":"188","font":"Liberation Serif","fontWeight":"bold","fontSize":32,"color":"#1010c8","align":"right","baseline":"alphabetic"},"encoding":{"x":{"datum":28.78,"type":"quantitative","scale":{"domain":[0.447,36.167],"nice":false,"zero":false},"axis":null},"y":{"datum":490,"type":"quantitative","scale":{"domain":[-3439.1,709.8],"nice":false,"zero":false},"axis":null}}},
{"data":{"values":[{}]},"mark":{"type":"text","text":"Os","font":"Liberation Serif","fontWeight":"bold","fontSize":46,"color":"#1010c8","align":"left","baseline":"alphabetic"},"encoding":{"x":{"datum":29.01,"type":"quantitative","scale":{"domain":[0.447,36.167],"nice":false,"zero":false},"axis":null},"y":{"datum":424,"type":"quantitative","scale":{"domain":[-3439.1,709.8],"nice":false,"zero":false},"axis":null}}}
],
"resolve":{"scale":{"x":"shared","y":"independent"},"axis":{"x":"independent","y":"independent"}}
}
